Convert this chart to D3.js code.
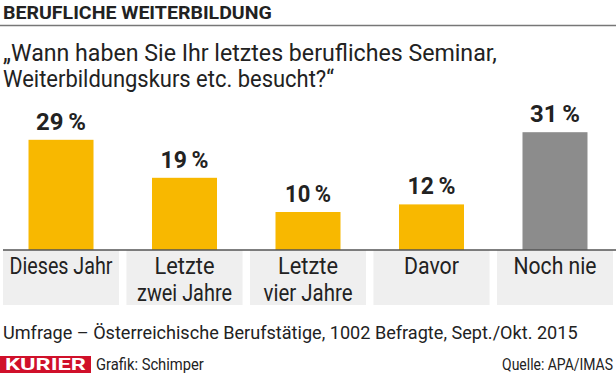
<!DOCTYPE html>
<html>
<head>
<meta charset="utf-8">
<script src="https://cdn.jsdelivr.net/npm/d3@7"></script>
<style>
  body { margin: 0; background: #fff; }
  svg { display: block; }
  text { font-family: Roboto, "Noto Sans", sans-serif; fill: #222; }
</style>
</head>
<body>
<svg id="chart" width="616" height="374"></svg>
<script>
// data
var categories = ["Dieses Jahr", "Letzte|zwei Jahre", "Letzte|vier Jahre", "Davor", "Noch nie"];
var values = [29, 19, 10, 12, 31];
var barColors = ["#f8b800", "#f8b800", "#f8b800", "#f8b800", "#8c8c8c"];
// widths of the labels
var catWidths = [[103], [60, 95], [60, 89], [55], [83]];
var valueWidths = [50, 48, 46, 48, 50];

var title = "BERUFLICHE WEITERBILDUNG";
var question = ["\u201EWann haben Sie Ihr letztes berufliches Seminar,", "Weiterbildungskurs etc. besucht?\u201C"];
var note = "Umfrage \u2013 \u00D6sterreichische Berufst\u00E4tige, 1002 Befragte, Sept./Okt. 2015";
var credit = "Grafik: Schimper";
var source = "Quelle: APA/IMAS";

var svg = d3.select("#chart");

// squeeze a text horizontally to a given width (the source font is condensed)
function fit(t, px, py, w) {
  var len = t.node().getComputedTextLength();
  t.attr("x", 0).attr("y", 0)
    .attr("transform", "translate(" + px + "," + py + ") scale(" + (w / len) + ",1)");
  return t;
}

// header
fit(svg.append("text")
  .attr("font-size", 19).attr("font-weight", "bold")
  .text(title), 3, 19, 269);

svg.append("line")
  .attr("x1", 0).attr("x2", 616)
  .attr("y1", 25.5).attr("y2", 25.5)
  .attr("stroke", "#777").attr("stroke-width", 1.5);

var qWidths = [494, 331];
question.forEach(function(q, i) {
  fit(svg.append("text").attr("font-size", 24).text(q), 3, 61 + i * 26, qWidths[i]);
});

// scales
var baseY = 250;
var x = d3.scaleBand()
  .domain(categories)
  .range([0, 616])
  .paddingInner(0.06)
  .paddingOuter(0.024);

var y = d3.scaleLinear()
  .domain([0, 31])
  .range([baseY, baseY - 31 * 3.8]);

var barW = 65;

// label boxes under the axis
svg.selectAll(".box")
  .data(categories)
  .enter().append("rect")
  .attr("class", "box")
  .attr("x", function(d) { return x(d); })
  .attr("y", baseY)
  .attr("width", x.bandwidth())
  .attr("height", 55)
  .attr("fill", "#efefef");

// bars
svg.selectAll(".bar")
  .data(values)
  .enter().append("rect")
  .attr("class", "bar")
  .attr("x", function(d, i) { return x(categories[i]) + x.bandwidth() / 2 - barW / 2; })
  .attr("y", function(d) { return y(d); })
  .attr("width", barW)
  .attr("height", function(d) { return y(0) - y(d); })
  .attr("fill", function(d, i) { return barColors[i]; });

// axis line
svg.append("line")
  .attr("x1", 3).attr("x2", 616)
  .attr("y1", baseY).attr("y2", baseY)
  .attr("stroke", "#555").attr("stroke-width", 1.5);

// value labels
values.forEach(function(v, i) {
  var t = svg.append("text")
    .attr("text-anchor", "middle")
    .attr("font-size", 23)
    .attr("font-weight", "bold")
    .text(v + "\u2009%");
  fit(t, x(categories[i]) + x.bandwidth() / 2, y(v) - 10, valueWidths[i]);
});

// category labels
categories.forEach(function(c, i) {
  c.split("|").forEach(function(line, j) {
    var t = svg.append("text")
      .attr("text-anchor", "middle")
      .attr("font-size", 24)
      .text(line);
    fit(t, x(c) + x.bandwidth() / 2, 274 + j * 27, catWidths[i][j]);
  });
});

// footer
fit(svg.append("text").attr("font-size", 19).text(note), 3, 339, 575);

svg.append("rect")
  .attr("x", 0).attr("y", 356)
  .attr("width", 91).attr("height", 17)
  .attr("fill", "#d0102a");

fit(svg.append("text")
  .attr("font-size", 17)
  .attr("font-family", "'Liberation Serif', serif")
  .attr("font-weight", "bold")
  .style("fill", "#fff")
  .text("KURIER"), 5, 370, 81);

fit(svg.append("text").attr("font-size", 16).text(credit), 96, 370, 108);

fit(svg.append("text").attr("font-size", 16).attr("text-anchor", "end").text(source), 613, 370, 111);
</script>
</body>
</html>
